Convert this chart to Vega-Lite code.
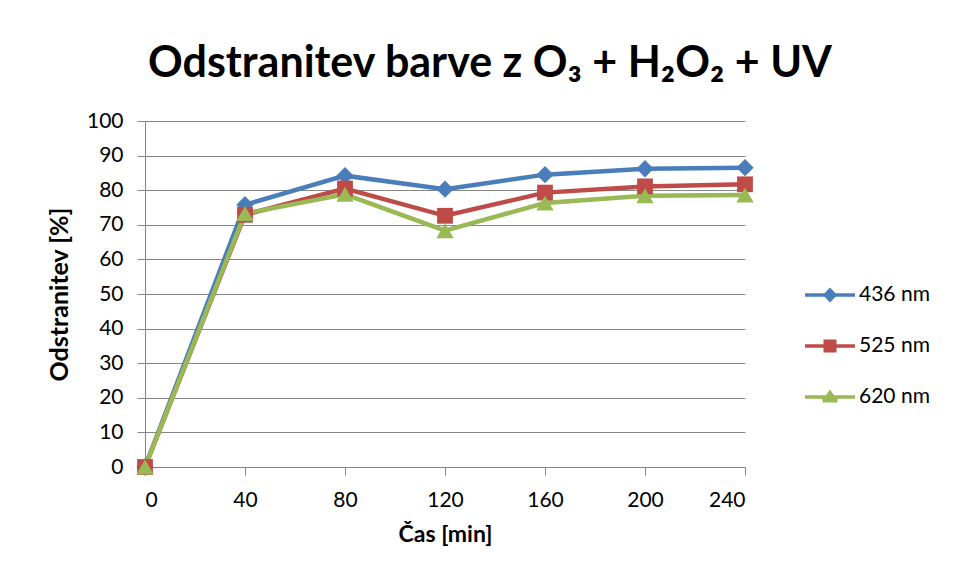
{
  "$schema": "https://vega.github.io/schema/vega-lite/v6.json",
  "width": 600,
  "height": 346,
  "autosize": {"type": "none"},
  "padding": {"left": 145, "top": 121, "right": 220, "bottom": 121},
  "background": "white",
  "config": {"view": {"stroke": null}, "font": "Lato"},
  "title": {
    "text": "Odstranitev barve z O₃ + H₂O₂ + UV",
    "fontSize": 43,
    "fontWeight": "bold",
    "font": "Lato",
    "color": "#000000",
    "anchor": "middle",
    "dx": 45,
    "offset": 24
  },
  "data": {
    "values": [
      {"t": 0, "v": 0, "s": "436 nm"},
      {"t": 40, "v": 75.8, "s": "436 nm"},
      {"t": 80, "v": 84.2, "s": "436 nm"},
      {"t": 120, "v": 80.3, "s": "436 nm"},
      {"t": 160, "v": 84.5, "s": "436 nm"},
      {"t": 200, "v": 86.2, "s": "436 nm"},
      {"t": 240, "v": 86.5, "s": "436 nm"},
      {"t": 0, "v": 0, "s": "525 nm"},
      {"t": 40, "v": 72.9, "s": "525 nm"},
      {"t": 80, "v": 80.5, "s": "525 nm"},
      {"t": 120, "v": 72.6, "s": "525 nm"},
      {"t": 160, "v": 79.3, "s": "525 nm"},
      {"t": 200, "v": 81.1, "s": "525 nm"},
      {"t": 240, "v": 81.7, "s": "525 nm"},
      {"t": 0, "v": 0, "s": "620 nm"},
      {"t": 40, "v": 73.3, "s": "620 nm"},
      {"t": 80, "v": 78.8, "s": "620 nm"},
      {"t": 120, "v": 68.3, "s": "620 nm"},
      {"t": 160, "v": 76.3, "s": "620 nm"},
      {"t": 200, "v": 78.4, "s": "620 nm"},
      {"t": 240, "v": 78.6, "s": "620 nm"}
    ]
  },
  "encoding": {
    "x": {
      "field": "t",
      "type": "quantitative",
      "scale": {"domain": [0, 240], "nice": false, "zero": false},
      "axis": {
        "title": "Čas [min]",
        "values": [0, 40, 80, 120, 160, 200, 240],
        "grid": false,
        "domainColor": "#868686",
        "tickColor": "#868686",
        "tickSize": 8,
        "labelFontSize": 21,
        "labelColor": "#000000",
        "labelPadding": 14,
        "labelFont": "Lato",
        "titleFont": "Lato",
        "titleFontSize": 23,
        "titleFontWeight": "bold",
        "titleColor": "#000000",
        "titlePadding": 13
      }
    },
    "y": {
      "field": "v",
      "type": "quantitative",
      "scale": {"domain": [0, 100], "nice": false},
      "axis": {
        "title": "Odstranitev [%]",
        "values": [0, 10, 20, 30, 40, 50, 60, 70, 80, 90, 100],
        "grid": true,
        "gridColor": "#868686",
        "gridWidth": 1,
        "domainColor": "#868686",
        "tickColor": "#868686",
        "tickSize": 8,
        "labelFontSize": 21,
        "labelColor": "#000000",
        "labelPadding": 14,
        "labelFont": "Lato",
        "titleFont": "Lato",
        "titleFontSize": 25,
        "titleFontWeight": "bold",
        "titleColor": "#000000",
        "titlePadding": 14
      }
    },
    "color": {
      "field": "s",
      "type": "nominal",
      "scale": {"domain": ["436 nm", "525 nm", "620 nm"], "range": ["#4A7EBB", "#BE4B48", "#98B954"]},
      "legend": {
        "title": null,
        "orient": "none",
        "legendX": 660,
        "legendY": 149,
        "symbolSize": 2500,
        "symbolStrokeWidth": 0,
        "rowPadding": 16,
        "labelFontSize": 21,
        "labelFont": "Lato",
        "labelColor": "#000000",
        "labelOffset": 4,
        "encode": {
          "symbols": {
            "update": {
              "shape": {"signal": "datum.value === '436 nm' ? 'M-1,-0.07H-0.22L0,-0.3L0.22,-0.07H1V0.07H0.22L0,0.3L-0.22,0.07H-1Z' : datum.value === '525 nm' ? 'M-1,-0.07H-0.26V-0.26H0.26V-0.07H1V0.07H0.26V0.26H-0.26V0.07H-1Z' : 'M-1,-0.07H-0.16L0,-0.3L0.16,-0.07H1V0.07H0.3L0.3,0.22H-0.3L-0.3,0.07H-1Z'"},
              "fill": {"signal": "scale('color', datum.value)"},
              "fillOpacity": {"value": 1},
              "strokeWidth": {"value": 0}
            }
          }
        }
      }
    }
  },
  "layer": [
    {
      "mark": {"type": "line", "strokeWidth": 4.5}
    },
    {
      "transform": [{"filter": "datum.s === '436 nm'"}],
      "mark": {"type": "point", "filled": true, "size": 300, "opacity": 1, "shape": "diamond"}
    },
    {
      "transform": [{"filter": "datum.s === '525 nm'"}],
      "mark": {"type": "point", "filled": true, "size": 250, "opacity": 1, "shape": "square"}
    },
    {
      "transform": [{"filter": "datum.s === '620 nm'"}],
      "mark": {"type": "point", "filled": true, "size": 300, "opacity": 1, "shape": "triangle-up"}
    }
  ]
}
